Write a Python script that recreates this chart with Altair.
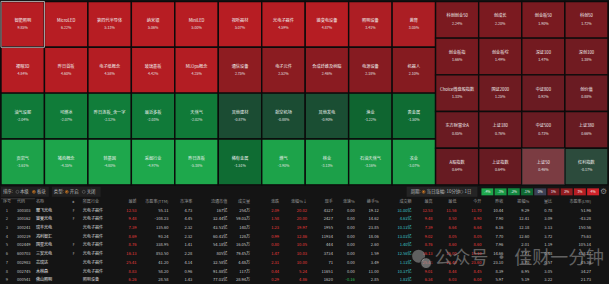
import altair as alt
import pandas as pd

FONT = "Noto Sans CJK SC"

# ---------------- heatmap data ----------------
left_names = ["智能照明", "MicroLED", "第四代半导体", "纳米银", "MiniLED", "视听器材", "光电子器件", "输变电设备", "照明设备", "教育",
              "裸眼3D", "昨日首板", "电子纸概念", "玻璃基板", "MLOps概念", "通信设备", "电子元件", "合成纤维及树脂", "电源设备", "机器人",
              "油气设服", "可燃冰", "昨日连板_含一字", "最近多板", "天然气", "其他建材", "航空机场", "其他发电", "渔业", "贵金属",
              "页岩气", "猪肉概念", "转基因", "采掘行业", "昨日连板", "稀有金属", "燃气", "林业", "石油天然气", "农业"]
left_pcts = [9.85, 6.22, 5.13, 5.06, 5.00, 5.07, 4.59, 4.87, 3.41, 3.05,
             4.84, 4.60, 4.58, 4.42, 4.25, 2.75, 2.52, 2.46, 2.18, 2.10,
             -2.04, -2.07, -2.12, -2.03, -2.02, -0.87, -0.88, -0.90, -1.22, -1.50,
             -3.61, -4.35, -4.80, -4.97, -5.38, -1.51, -3.90, -3.13, -3.16, -3.07]
right_names = ["科创创业50", "创成长", "创业板50", "科创50",
               "创业板指", "创业板综", "深证100", "深创100",
               "Choice微盘股指数", "国证2000", "中证800", "创价值",
               "东方财富全A", "上证180", "中证500", "上证380",
               "A股指数", "上证指数", "上证50", "红利指数"]
right_pcts = [2.24, 2.20, 1.90, 1.72, 1.66, 1.49, 1.47, 1.38, 1.33, 1.25,
              0.92, 0.88, 0.85, 0.76, 0.73, 0.66, 0.64, 0.64, 0.46, -0.17]

# ---------------- table data ----------------
codes = ["300303", "300162", "300241", "300219", "002449", "600703", "002983", "002745", "000541"]
names = ["聚飞光电", "雷曼光电", "瑞丰光电", "鸿利智汇", "国星光电", "三安光电", "芯瑞达", "木林森", "佛山照明"]
flags = ["F", "F", "", "", "F", "F", "", "", ""]
industry = ["光电子器件"] * 8 + ["照明设备"]
latest = ["12.53", "9.48", "7.39", "8.69", "8.76", "16.13", "25.41", "8.83", "6.26"]
pe_ttm = ["55.11", "-108.23", "135.60", "93.24", "338.95", "853.50", "41.20", "58.20", "28.58"]
pb = ["4.73", "4.45", "2.32", "2.32", "1.41", "2.28", "4.14", "0.96", "1.43"]
float_mv = ["167亿", "32.44亿", "43.53亿", "60.43亿", "54.18亿", "805亿", "32.58亿", "91.88亿", "77.03亿"]
volume = ["254万", "59.03万", "140万", "128万", "16.05万", "79.45万", "4.48万", "117万", "28.94万"]
change = ["2.09", "1.58", "1.23", "0.99", "0.80", "1.47", "2.31", "0.44", "0.29"]
pct_chg = ["20.02", "20.00", "19.97", "12.86", "10.05", "10.03", "10.00", "5.24", "4.86"]
hand = ["4327", "2427", "1955", "11934", "444", "3734", "71", "11651", "1620"]
speed = ["0.00"] * 8 + ["-0.16"]
turnover = ["19.12", "14.62", "23.85", "18.06", "2.60", "1.59", "3.49", "11.00", "2.85"]
amount = ["31.00亿", "4.63亿", "10.13亿", "13.03亿", "1.40亿", "12.56亿", "1.13亿", "10.37亿", "1.83亿"]
high = ["12.53", "9.48", "7.39", "9.02", "8.76", "16.13", "25.41", "9.01", "6.34"]
low = ["11.56", "8.50", "6.64", "8.05", "8.60", "15.00", "23.40", "8.44", "6.03"]
open_ = ["11.70", "8.90", "6.64", "8.05", "8.60", "15.10", "23.60", "8.45", "6.04"]
prev = ["10.44", "7.90", "6.16", "7.70", "7.96", "14.66", "23.10", "8.39", "5.97"]
amp = ["9.29", "12.41", "12.18", "12.60", "2.01", "7.71", "8.70", "6.95", "5.19"]
vol_ratio = ["0.78", "3.09", "3.13", "3.72", "1.19", "0.48", "0.57", "3.05", "3.22"]
pe_lyr = ["51.96", "-43.28", "150.56", "75.63", "105.14", "418.27", "45.36", "34.27", "21.73"]

legend_labels = ["-4%", "-3%", "-2%", "-1%", "0%", "1%", "2%", "3%", "4%"]

# ---------------- styles ----------------
RED = "#ec3d3d"
GRAY = "#c6c6c6"
TEAL = "#3cc2c8"
GREEN = "#2fbf5a"
HEAD = "#9a9a9a"
BORDER = "#0b0b0b"

left_scale = alt.Scale(
    domain=[-5, -3, -2.5, -1.9, -1.2, -0.85, 0, 0.6, 1.5, 2.8, 3.0, 5.0],
    range=["#1ea84c", "#1c9f49", "#168c42", "#0e7536", "#0f6530", "#1c4a33",
           "#30403a", "#671b22", "#7c1a20", "#8f1c21", "#ab1e24", "#b71d23"],
    interpolate="rgb", clamp=True)
right_scale = alt.Scale(
    domain=[-0.5, -0.1, 0.3, 0.7, 1.2, 1.6, 2.3],
    range=["#25503d", "#2e4a3c", "#611b22", "#681b22", "#6d1b21", "#761a20", "#7c1a20"],
    interpolate="rgb", clamp=True)


def heat(nm, pc, ncols, w, h, scale, sel=None, hl=None):
    n = len(nm)
    df = pd.DataFrame({
        "name": nm, "pct": pc,
        "col": [i % ncols for i in range(n)],
        "row": [i // ncols for i in range(n)],
    })
    df["label"] = [f"{p:.2f}%" for p in pc]
    df["sel"] = [1 if x == sel else 0 for x in nm]
    df["hl"] = [1 if x == hl else 0 for x in nm]
    base = alt.Chart(df).encode(
        x=alt.X("col:O", axis=None, scale=alt.Scale(paddingInner=0, paddingOuter=0)),
        y=alt.Y("row:O", axis=None, scale=alt.Scale(paddingInner=0, paddingOuter=0)),
    )
    rect = base.mark_rect(stroke=BORDER, strokeWidth=1.4).encode(
        color=alt.Color("pct:Q", scale=scale, legend=None))
    hlr = base.transform_filter("datum.hl == 1").mark_rect(
        color="#ffffff", fillOpacity=0.15, strokeOpacity=0)
    selr = base.transform_filter("datum.sel == 1").mark_rect(
        filled=False, stroke="#a8a8a8", strokeWidth=1)
    t1 = base.mark_text(dy=-3.4, fontSize=4.2, font=FONT, color="#f2f2f2").encode(text="name:N")
    t2 = base.mark_text(dy=3.8, fontSize=3.6, font=FONT, color="#e2e2e2").encode(text="label:N")
    return alt.layer(rect, hlr, selr, t1, t2).properties(width=w, height=h)


left = heat(left_names, left_pcts, 10, 436, 184, left_scale, sel="智能照明")
right = heat(right_names, right_pcts, 4, 173, 184, right_scale, hl="上证50")

# ---------------- table ----------------
dummy = pd.DataFrame({"a": [0]})
layers = []


def drect(x0, x1, y0, y1, color):
    return alt.Chart(dummy).mark_rect(color=color).encode(
        x=alt.value(x0), x2=alt.value(x1), y=alt.value(y0), y2=alt.value(y1))


def dtext(txt, x, y, size=4.4, color="#bdbdbd", align="left", font=FONT, opacity=1.0):
    return alt.Chart(dummy).mark_text(text=txt, align=align, baseline="middle", fontSize=size,
                                      font=font, color=color, opacity=opacity).encode(
        x=alt.value(x), y=alt.value(y))


def radio(x, y, on):
    if on:
        ring = alt.Chart(dummy).mark_point(shape="circle", filled=False, color="#f08a24",
                                           size=9, strokeWidth=0.7).encode(x=alt.value(x), y=alt.value(y))
        dot = alt.Chart(dummy).mark_point(shape="circle", filled=True, color="#f08a24",
                                          size=2.5, opacity=1).encode(x=alt.value(x), y=alt.value(y))
        return [ring, dot]
    return [alt.Chart(dummy).mark_point(shape="circle", filled=False, color="#8a8a8a",
                                        size=9, strokeWidth=0.6).encode(x=alt.value(x), y=alt.value(y))]


CY = 6
layers += [drect(0, 48, 1, 11, "#202020"), drect(51, 100, 1, 11, "#202020"),
           drect(407, 478, 1, 11, "#242424"), drect(0, 34, 12.5, 13.5, "#3a3a3a")]
layers += [dtext("排序:", 2, CY), dtext("本级", 19, CY), dtext("板块", 36, CY),
           dtext("类型:", 53, CY), dtext("开启", 69, CY), dtext("关闭", 86, CY),
           dtext("周期:", 411, CY), dtext("当日涨幅", 427, CY), dtext("10分钟", 447, CY),
           dtext("1日", 465, CY)]
layers += radio(16.5, CY, False) + radio(33, CY, True) + radio(66, CY, True) + radio(83, CY, False)
layers += radio(424, CY, True) + radio(444, CY, False) + radio(462, CY, False)

legend_df = pd.DataFrame({"lab": legend_labels})
lx = alt.X("lab:O", axis=None, scale=alt.Scale(domain=legend_labels, range=[482, 600],
                                                paddingInner=0.1, paddingOuter=0))
layers.append(alt.Chart(legend_df).mark_rect().encode(
    x=lx, y=alt.value(2.5), y2=alt.value(9.5),
    color=alt.Color("lab:N", legend=None, scale=alt.Scale(
        domain=legend_labels,
        range=["#1ea84c", "#179a45", "#12883f", "#0f6a33", "#3c4054",
               "#741a20", "#951c20", "#b51e23", "#d0222a"]))))
layers.append(alt.Chart(legend_df).mark_text(fontSize=3.4, font=FONT, color="#f0f0f0").encode(
    x=lx, y=alt.value(CY), text="lab:N"))
layers.append(dtext("⚙", 604.5, CY, size=8, color="#8a8a8a", align="center", font="DejaVu Sans"))

cols = [
    ("序号", [str(i + 1) for i in range(9)], 6, "center", "#b0b0b0"),
    ("代码", codes, 16, "left", "#c4c4c4"),
    ("名称", names, 35, "left", "#e6e6e6"),
    ("✱", flags, 73, "center", "#bdbdbd"),
    ("所属行业", industry, 82, "left", "#d0d0d0"),
    ("最新", latest, 136, "right", RED),
    ("市盈率(TTM)", pe_ttm, 168, "right", GRAY),
    ("市净率", pb, 192, "right", GRAY),
    ("流通市值", float_mv, 227, "right", GRAY),
    ("成交量", volume, 250, "right", GRAY),
    ("涨跌", change, 279, "right", RED),
    ("涨幅%↓", pct_chg, 307, "right", RED),
    ("现手", hand, 333, "right", GRAY),
    ("涨速%", speed, 355, "right", None),
    ("换手%", turnover, 379, "right", GRAY),
    ("成交额", amount, 412, "right", TEAL),
    ("最高", high, 433, "right", RED),
    ("最低", low, 457, "right", RED),
    ("今开", open_, 482, "right", RED),
    ("昨收", prev, 504, "right", GRAY),
    ("振幅%", amp, 530, "right", GRAY),
    ("量比", vol_ratio, 553, "right", GRAY),
    ("市盈率(LYR)", pe_lyr, 592, "right", GRAY),
]

yscale = alt.Scale(domain=[-16 / 8.75, 100 / 8.75 - 16 / 8.75], reverse=True, nice=False, zero=False)
for head, vals, xp, al, colr in cols:
    if colr is None:
        vcols = [GREEN if v.startswith("-") else GRAY for v in vals]
    else:
        vcols = [colr] * len(vals)
    df = pd.DataFrame({"r": list(range(len(vals) + 1)),
                       "t": [head] + list(vals),
                       "c": [HEAD] + vcols})
    fs = 3.4 if head in ("✱",) else 4.1
    layers.append(alt.Chart(df).mark_text(align=al, baseline="middle", fontSize=fs, font=FONT).encode(
        x=alt.value(xp), y=alt.Y("r:Q", scale=yscale, axis=None), text="t:N",
        fill=alt.Fill("c:N", scale=None)))

# watermark
layers.append(alt.Chart(dummy).mark_point(shape="circle", filled=True, color="#9c9c9c", opacity=0.55,
                                          size=170).encode(x=alt.value(419), y=alt.value(70.5)))
layers.append(alt.Chart(dummy).mark_point(shape="circle", filled=True, color="#9c9c9c", opacity=0.65,
                                          size=120, stroke="#151515", strokeWidth=1).encode(
    x=alt.value(426.5), y=alt.value(77.5)))
layers.append(dtext("公众号 · 佳财一分钟", 435, 73.5, size=18, color="#a0a0a0", opacity=0.55))

table = alt.layer(*layers).properties(width=609, height=100)

top = alt.hconcat(left, right, spacing=0, bounds="flush").resolve_scale(color="independent")
chart = alt.vconcat(top, table, spacing=0).resolve_scale(
    color="independent", x="independent", y="independent").properties(
    background="#141414", padding=0).configure_view(stroke=None)

chart.save("out.html", embed_options={"renderer": "svg", "actions": False})
